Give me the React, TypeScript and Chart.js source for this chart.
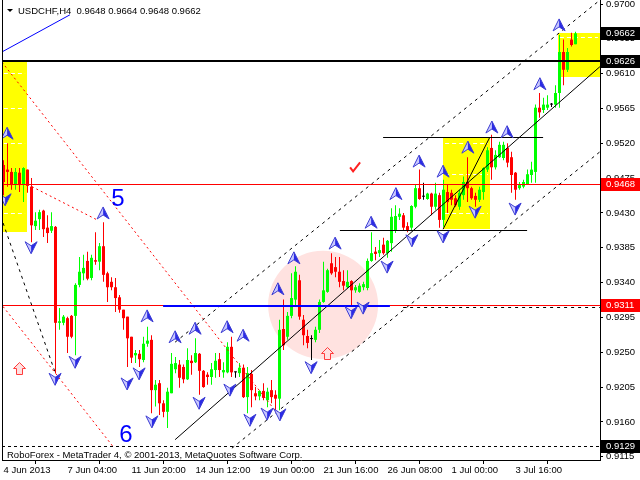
import React, { useEffect, useRef } from 'react';
import { Chart, registerables } from 'chart.js';

Chart.register(...registerables);

const symbol = 'USDCHF';
const period = 'H4';
const broker = 'RoboForex - MetaTrader 4, © 2001-2013, MetaQuotes Software Corp.';

const xTickIndex = [0, 16, 32, 48, 64, 80, 96, 112, 128];
const xTickLabels = ['4 Jun 2013', '7 Jun 04:00', '11 Jun 20:00', '14 Jun 12:00', '19 Jun 00:00', '21 Jun 16:00', '26 Jun 08:00', '1 Jul 00:00', '3 Jul 16:00'];
const yTickValues = [0.97, 0.9655, 0.961, 0.9565, 0.952, 0.9475, 0.943, 0.9385, 0.934, 0.9295, 0.925, 0.9205, 0.916, 0.9115];

const opens = [
  0.9492, 0.9486, 0.9483, 0.9466, 0.9482, 0.9466, 0.9486, 0.9464, 0.9413, 0.9422,
  0.9433, 0.9411, 0.9407, 0.9412, 0.9288, 0.9288, 0.9294, 0.9297, 0.9297, 0.9337,
  0.9352, 0.9368, 0.9346, 0.9369, 0.9367, 0.9387, 0.9352, 0.9341, 0.9334, 0.9321,
  0.9305, 0.9296, 0.9270, 0.9246, 0.9248, 0.9240, 0.9261, 0.9266, 0.9201, 0.9210,
  0.9184, 0.9173, 0.9197, 0.9228, 0.9234, 0.9231, 0.9215, 0.9239, 0.9237, 0.9248,
  0.9226, 0.9221, 0.9218, 0.9227, 0.9241, 0.9224, 0.9224, 0.9257, 0.9224, 0.9223,
  0.9230, 0.9192, 0.9222, 0.9197, 0.9193, 0.9200, 0.9188, 0.9201, 0.9195, 0.9190,
  0.9280, 0.9270, 0.9297, 0.9318, 0.9343, 0.9292, 0.9271, 0.9267, 0.9266, 0.9279,
  0.9315, 0.9328, 0.9365, 0.9360, 0.9354, 0.9342, 0.9334, 0.9342, 0.9330, 0.9328,
  0.9334, 0.9333, 0.9368, 0.9380, 0.9378, 0.9389, 0.9378, 0.9391, 0.9408, 0.9425,
  0.9427, 0.9413, 0.9411, 0.9438, 0.9462, 0.9451, 0.9448, 0.9455, 0.9438, 0.9453,
  0.9421, 0.9457, 0.9456, 0.9449, 0.9438, 0.9453, 0.9470, 0.9462, 0.9452, 0.9447,
  0.9457, 0.9486, 0.9514, 0.9489, 0.9502, 0.9501, 0.9514, 0.9502, 0.9482, 0.9462,
  0.9464, 0.9467, 0.9479, 0.9483, 0.9566, 0.9563, 0.9566, 0.9570, 0.9570, 0.9585,
  0.9638, 0.9615, 0.9654, 0.9648,
];
const highs = [
  0.9498, 0.9520, 0.9488, 0.9488, 0.9488, 0.9489, 0.9486, 0.9475, 0.9431, 0.9434,
  0.9434, 0.9427, 0.9431, 0.9413, 0.9307, 0.9298, 0.9296, 0.9298, 0.9339, 0.9373,
  0.9376, 0.9380, 0.9376, 0.9405, 0.9391, 0.9418, 0.9354, 0.9347, 0.9346, 0.9324,
  0.9305, 0.9296, 0.9270, 0.9253, 0.9253, 0.9270, 0.9283, 0.9272, 0.9214, 0.9214,
  0.9188, 0.9204, 0.9249, 0.9244, 0.9240, 0.9234, 0.9255, 0.9246, 0.9268, 0.9249,
  0.9227, 0.9224, 0.9236, 0.9249, 0.9249, 0.9237, 0.9263, 0.9270, 0.9225, 0.9236,
  0.9234, 0.9231, 0.9227, 0.9205, 0.9201, 0.9210, 0.9204, 0.9214, 0.9201, 0.9292,
  0.9318, 0.9302, 0.9352, 0.9361, 0.9350, 0.9298, 0.9279, 0.9272, 0.9283, 0.9318,
  0.9367, 0.9358, 0.9378, 0.9373, 0.9373, 0.9356, 0.9356, 0.9343, 0.9337, 0.9339,
  0.9341, 0.9371, 0.9405, 0.9386, 0.9395, 0.9398, 0.9395, 0.9436, 0.9440, 0.9436,
  0.9430, 0.9418, 0.9440, 0.9467, 0.9486, 0.9469, 0.9456, 0.9456, 0.9469, 0.9456,
  0.9473, 0.9466, 0.9460, 0.9453, 0.9460, 0.9477, 0.9502, 0.9464, 0.9456, 0.9464,
  0.9489, 0.9515, 0.9531, 0.9511, 0.9522, 0.9522, 0.9520, 0.9509, 0.9483, 0.9470,
  0.9473, 0.9486, 0.9496, 0.9570, 0.9585, 0.9579, 0.9582, 0.9572, 0.9595, 0.9660,
  0.9654, 0.9643, 0.9663, 0.9664,
];
const lows = [
  0.9453, 0.9464, 0.9460, 0.9460, 0.9457, 0.9444, 0.9456, 0.9392, 0.9408, 0.9408,
  0.9399, 0.9391, 0.9404, 0.9223, 0.9279, 0.9285, 0.9249, 0.9268, 0.9246, 0.9334,
  0.9343, 0.9343, 0.9343, 0.9363, 0.9356, 0.9341, 0.9315, 0.9330, 0.9302, 0.9301,
  0.9279, 0.9231, 0.9236, 0.9236, 0.9231, 0.9237, 0.9257, 0.9171, 0.9180, 0.9169,
  0.9166, 0.9152, 0.9197, 0.9223, 0.9204, 0.9210, 0.9214, 0.9221, 0.9236, 0.9195,
  0.9204, 0.9208, 0.9208, 0.9217, 0.9218, 0.9217, 0.9223, 0.9218, 0.9217, 0.9218,
  0.9191, 0.9171, 0.9179, 0.9188, 0.9188, 0.9188, 0.9179, 0.9184, 0.9173, 0.9175,
  0.9253, 0.9266, 0.9294, 0.9311, 0.9292, 0.9259, 0.9255, 0.9240, 0.9263, 0.9275,
  0.9314, 0.9327, 0.9350, 0.9347, 0.9334, 0.9330, 0.9333, 0.9311, 0.9327, 0.9327,
  0.9330, 0.9330, 0.9367, 0.9369, 0.9373, 0.9376, 0.9372, 0.9380, 0.9404, 0.9421,
  0.9408, 0.9405, 0.9408, 0.9436, 0.9447, 0.9447, 0.9447, 0.9427, 0.9434, 0.9411,
  0.9412, 0.9430, 0.9440, 0.9438, 0.9434, 0.9447, 0.9444, 0.9447, 0.9438, 0.9444,
  0.9447, 0.9483, 0.9473, 0.9486, 0.9501, 0.9498, 0.9489, 0.9456, 0.9447, 0.9460,
  0.9462, 0.9466, 0.9469, 0.9469, 0.9553, 0.9559, 0.9563, 0.9567, 0.9566, 0.9566,
  0.9595, 0.9612, 0.9645, 0.9648,
];
const closes = [
  0.9470, 0.9483, 0.9466, 0.9483, 0.9466, 0.9488, 0.9465, 0.9414, 0.9420, 0.9431,
  0.9409, 0.9404, 0.9413, 0.9288, 0.9290, 0.9296, 0.9270, 0.9270, 0.9337, 0.9354,
  0.9359, 0.9345, 0.9372, 0.9367, 0.9387, 0.9350, 0.9334, 0.9334, 0.9320, 0.9305,
  0.9294, 0.9268, 0.9243, 0.9249, 0.9241, 0.9261, 0.9265, 0.9201, 0.9208, 0.9184,
  0.9173, 0.9199, 0.9235, 0.9236, 0.9217, 0.9215, 0.9240, 0.9236, 0.9249, 0.9226,
  0.9205, 0.9218, 0.9228, 0.9239, 0.9227, 0.9227, 0.9257, 0.9224, 0.9224, 0.9230,
  0.9192, 0.9223, 0.9201, 0.9193, 0.9200, 0.9191, 0.9199, 0.9192, 0.9190, 0.9279,
  0.9259, 0.9297, 0.9320, 0.9354, 0.9296, 0.9272, 0.9262, 0.9267, 0.9279, 0.9315,
  0.9330, 0.9356, 0.9352, 0.9354, 0.9341, 0.9336, 0.9341, 0.9330, 0.9334, 0.9336,
  0.9338, 0.9368, 0.9378, 0.9377, 0.9382, 0.9378, 0.9394, 0.9425, 0.9426, 0.9429,
  0.9411, 0.9408, 0.9439, 0.9462, 0.9448, 0.9451, 0.9455, 0.9438, 0.9455, 0.9421,
  0.9460, 0.9444, 0.9447, 0.9440, 0.9456, 0.9470, 0.9462, 0.9449, 0.9447, 0.9460,
  0.9488, 0.9511, 0.9489, 0.9505, 0.9518, 0.9518, 0.9495, 0.9479, 0.9460, 0.9466,
  0.9470, 0.9480, 0.9486, 0.9566, 0.9560, 0.9570, 0.9570, 0.9570, 0.9585, 0.9638,
  0.9615, 0.9638, 0.9647, 0.9662,
];

// horizontal levels across the whole chart
const levelPrices = [0.9626, 0.9468, 0.9311, 0.9129];
// price marks on the right axis
const axisMarkPrices = [0.9662, 0.9626, 0.9468, 0.9311, 0.9129];
const axisMarkKinds = ['black', 'black', 'red', 'red', 'black'];

// rectangles [fromIndex, topPrice, toIndex, bottomPrice]
const zoneBoxes = [
  [-0.4, 0.9626, 5.9, 0.9405],
  [109.9, 0.9528, 121.6, 0.9409],
  [138.6, 0.9663, 149.1, 0.9606],
];
// white level lines inside rectangles [fromIndex, toIndex, price]
const zoneLevels = [
  [0.1, 5.4, 0.9611], [0.1, 5.4, 0.9566], [0.1, 5.4, 0.952], [0.1, 5.4, 0.943],
  [110.4, 121.1, 0.952], [110.4, 121.1, 0.948], [110.4, 121.1, 0.943],
  [139.1, 148.6, 0.9658],
];
// ellipse [centerIndex, centerPrice, radiusIndex, radiusPrice]
const ellipseZone = [79.9, 0.9311, 13.75, 0.007];

// line segments [index1, price1, index2, price2]
const dashedBlack = [
  [42.9, 0.9263, 149.1, 0.9705],
  [57.1, 0.9126, 149.1, 0.9509],
  [-0.1, 0.9417, 12.9, 0.9224],
  [99.9, 0.9309, 149.1, 0.9309],
];
const solidBlack = [
  [42.9, 0.9137, 149.1, 0.9619],
  [109.9, 0.9409, 121.6, 0.9528],
  [94.9, 0.9528, 134.9, 0.9528],
  [84.1, 0.9408, 130.9, 0.9408],
];
const dottedRed = [
  [-0.4, 0.9625, 68.6, 0.917],
  [7.1, 0.9464, 23.4, 0.9421],
  [-0.1, 0.9309, 27.4, 0.9128],
];
const solidBlue = [[-0.4, 0.9638, 16.6, 0.9686]];
const thickBlue = [[39.9, 0.931, 96.6, 0.931]];

// fractal marks [index, price]
const fractalUp = [
  [0.9, 0.9533], [24.9, 0.943], [35.9, 0.9297], [42.9, 0.927], [47.9, 0.9281], [55.9, 0.9283],
  [59.9, 0.9272], [68.6, 0.9332], [72.6, 0.9372], [82.9, 0.9391], [91.9, 0.9418], [98.1, 0.9455],
  [103.9, 0.9497], [109.9, 0.9484], [116.1, 0.9515], [122.1, 0.9541], [125.9, 0.9535],
  [134.1, 0.9597], [138.9, 0.9673],
];
const fractalDown = [
  [0.4, 0.9447], [6.9, 0.9385], [12.9, 0.9215], [17.9, 0.9237], [30.9, 0.9209], [33.9, 0.9222],
  [37.1, 0.916], [48.9, 0.9184], [56.6, 0.9201], [61.6, 0.9162], [65.9, 0.917], [69.1, 0.9169],
  [76.9, 0.923], [86.9, 0.9301], [89.9, 0.9307], [95.9, 0.936], [102.1, 0.9394], [109.9, 0.9399],
  [117.9, 0.9431], [127.9, 0.9435],
];
const hollowUpArrows = [[3.9, 0.923], [80.9, 0.9249]];
const checkMarks = [[87.9, 0.9489]];
const waveLabels = ['5', '6'];
const waveLabelPos = [[28.6, 0.9448], [30.6, 0.9142]];

const FONT = '"Liberation Sans", Arial, sans-serif';

function drawFractal(ctx: CanvasRenderingContext2D, cx: number, cy: number, up: boolean) {
  const s = up ? 1 : -1;
  ctx.beginPath();
  ctx.moveTo(cx, cy - 6 * s);
  ctx.lineTo(cx - 6, cy + 6 * s);
  ctx.lineTo(cx, cy + 2 * s);
  ctx.closePath();
  ctx.fillStyle = '#c8c8ff';
  ctx.fill();
  ctx.beginPath();
  ctx.moveTo(cx, cy - 6 * s);
  ctx.lineTo(cx + 6, cy + 6 * s);
  ctx.lineTo(cx, cy + 2 * s);
  ctx.closePath();
  ctx.fillStyle = '#2a2ae6';
  ctx.fill();
  ctx.beginPath();
  ctx.moveTo(cx, cy - 6 * s);
  ctx.lineTo(cx + 6, cy + 6 * s);
  ctx.lineTo(cx, cy + 2 * s);
  ctx.lineTo(cx - 6, cy + 6 * s);
  ctx.closePath();
  ctx.strokeStyle = '#3c3cd2';
  ctx.lineWidth = 1;
  ctx.stroke();
}

function drawSegs(ctx: CanvasRenderingContext2D, chart: any, segs: number[][], color: string, width: number, dash: number[]) {
  const { x, y } = chart.scales;
  ctx.strokeStyle = color;
  ctx.lineWidth = width;
  ctx.setLineDash(dash);
  segs.forEach(([i1, p1, i2, p2]) => {
    let y1 = y.getPixelForValue(p1);
    let y2 = y.getPixelForValue(p2);
    if (Math.abs(y1 - y2) < 0.01) {
      const yy = width % 2 === 1 ? Math.round(y1) + 0.5 : Math.round(y1);
      y1 = yy;
      y2 = yy;
    }
    ctx.beginPath();
    ctx.moveTo(x.getPixelForValue(i1), y1);
    ctx.lineTo(x.getPixelForValue(i2), y2);
    ctx.stroke();
  });
  ctx.setLineDash([]);
}

const overlayPlugin = {
  id: 'mt4overlay',
  beforeDatasetsDraw(chart: any) {
    const { ctx, chartArea: a } = chart;
    const { x, y } = chart.scales;
    ctx.save();
    ctx.beginPath();
    ctx.rect(a.left, a.top, a.right - a.left, a.bottom - a.top);
    ctx.clip();
    ctx.fillStyle = '#ffff00';
    zoneBoxes.forEach(([i1, p1, i2, p2]) => {
      const x1 = Math.round(x.getPixelForValue(i1));
      const x2 = Math.round(x.getPixelForValue(i2));
      const y1 = Math.round(y.getPixelForValue(p1));
      const y2 = Math.round(y.getPixelForValue(p2));
      ctx.fillRect(x1, y1, x2 - x1, y2 - y1);
    });
    ctx.fillStyle = '#ffe2e0';
    const cx = x.getPixelForValue(ellipseZone[0]);
    const cy = y.getPixelForValue(ellipseZone[1]);
    const rx = x.getPixelForValue(ellipseZone[0] + ellipseZone[2]) - cx;
    const ry = y.getPixelForValue(ellipseZone[1] - ellipseZone[3]) - cy;
    ctx.beginPath();
    ctx.ellipse(cx, cy, rx, ry, 0, 0, Math.PI * 2);
    ctx.fill();
    ctx.strokeStyle = '#ffffff';
    ctx.lineWidth = 1;
    ctx.setLineDash([4, 3]);
    zoneLevels.forEach(([i1, i2, p]) => {
      const yy = Math.round(y.getPixelForValue(p)) + 0.5;
      ctx.beginPath();
      ctx.moveTo(x.getPixelForValue(i1), yy);
      ctx.lineTo(x.getPixelForValue(i2), yy);
      ctx.stroke();
    });
    ctx.setLineDash([]);
    ctx.restore();
  },
  afterDatasetsDraw(chart: any) {
    const { ctx, chartArea: a } = chart;
    const { x, y } = chart.scales;
    ctx.save();
    ctx.beginPath();
    ctx.rect(a.left, a.top, a.right - a.left, a.bottom - a.top);
    ctx.clip();

    levelPrices.forEach((p, k) => {
      const py = y.getPixelForValue(p);
      if (k === 0) {
        ctx.fillStyle = '#000000';
        ctx.fillRect(a.left, Math.round(py) - 1, a.right - a.left, 2);
      } else if (k === 3) {
        ctx.strokeStyle = '#000000';
        ctx.lineWidth = 1;
        ctx.setLineDash([3, 3]);
        ctx.beginPath();
        ctx.moveTo(a.left, Math.round(py) + 0.5);
        ctx.lineTo(a.right, Math.round(py) + 0.5);
        ctx.stroke();
        ctx.setLineDash([]);
      } else {
        ctx.fillStyle = '#ff0000';
        ctx.fillRect(a.left, Math.round(py), a.right - a.left, 1);
      }
    });

    drawSegs(ctx, chart, dottedRed, '#ff0000', 1, [2, 3]);
    drawSegs(ctx, chart, dashedBlack, '#000000', 1, [3, 4]);
    drawSegs(ctx, chart, solidBlack, '#000000', 1, []);
    drawSegs(ctx, chart, solidBlue, '#0000ff', 1, []);
    drawSegs(ctx, chart, thickBlue, '#0000ff', 2, []);

    fractalUp.forEach(([i, p]) => drawFractal(ctx, x.getPixelForValue(i), y.getPixelForValue(p), true));
    fractalDown.forEach(([i, p]) => drawFractal(ctx, x.getPixelForValue(i), y.getPixelForValue(p), false));

    hollowUpArrows.forEach(([i, p]) => {
      const cx = Math.round(x.getPixelForValue(i)) + 0.5;
      const cy = Math.round(y.getPixelForValue(p)) + 0.5;
      ctx.beginPath();
      ctx.moveTo(cx, cy - 6);
      ctx.lineTo(cx + 6, cy);
      ctx.lineTo(cx + 3, cy);
      ctx.lineTo(cx + 3, cy + 6);
      ctx.lineTo(cx - 3, cy + 6);
      ctx.lineTo(cx - 3, cy);
      ctx.lineTo(cx - 6, cy);
      ctx.closePath();
      ctx.fillStyle = '#ffe0e0';
      ctx.fill();
      ctx.strokeStyle = '#ff3c3c';
      ctx.lineWidth = 1;
      ctx.stroke();
    });

    checkMarks.forEach(([i, p]) => {
      const cx = x.getPixelForValue(i);
      const cy = y.getPixelForValue(p);
      ctx.strokeStyle = '#ff2020';
      ctx.lineWidth = 2;
      ctx.beginPath();
      ctx.moveTo(cx - 5, cy);
      ctx.lineTo(cx - 2, cy + 4);
      ctx.lineTo(cx + 5, cy - 5);
      ctx.stroke();
    });

    ctx.fillStyle = '#0000ff';
    ctx.font = `24px ${FONT}`;
    ctx.textAlign = 'center';
    ctx.textBaseline = 'middle';
    waveLabels.forEach((t, k) => {
      ctx.fillText(t, x.getPixelForValue(waveLabelPos[k][0]), y.getPixelForValue(waveLabelPos[k][1]));
    });

    ctx.fillStyle = '#000000';
    ctx.beginPath();
    ctx.moveTo(a.left + 5, a.top + 9);
    ctx.lineTo(a.left + 11, a.top + 9);
    ctx.lineTo(a.left + 8, a.top + 12);
    ctx.closePath();
    ctx.fill();
    const last = opens.length - 1;
    const title = `${symbol},${period}  ${opens[last].toFixed(4)} ${highs[last].toFixed(4)} ${lows[last].toFixed(4)} ${closes[last].toFixed(4)}`;
    ctx.font = `9.5px ${FONT}`;
    ctx.textAlign = 'left';
    ctx.textBaseline = 'middle';
    ctx.fillText(title, a.left + 16, a.top + 11);
    ctx.fillText(broker, a.left + 5, a.bottom - 5);

    ctx.fillRect(a.left, a.top, 1, a.bottom - a.top);
    ctx.restore();

    ctx.save();
    ctx.font = `9.5px ${FONT}`;
    ctx.textAlign = 'left';
    ctx.textBaseline = 'middle';
    axisMarkPrices.forEach((p, k) => {
      const py = Math.round(y.getPixelForValue(p));
      ctx.fillStyle = axisMarkKinds[k] === 'red' ? '#ff0000' : '#000000';
      ctx.fillRect(a.right + 1, py - 6, chart.width - a.right - 1, 13);
      ctx.fillStyle = '#ffffff';
      ctx.fillText(p.toFixed(4), a.right + 6, py + 0.5);
    });
    ctx.restore();
  },
};

export default function App() {
  const ref = useRef<HTMLCanvasElement | null>(null);
  useEffect(() => {
    if (!ref.current) return;
    const n = opens.length;
    const idx = Array.from({ length: n }, (_, i) => i);
    const colorOf = (i: number) => (closes[i] > opens[i] ? '#00ff00' : closes[i] < opens[i] ? '#ff0000' : '#000000');
    const chart = new Chart(ref.current, {
      type: 'bar',
      data: {
        datasets: [
          {
            label: 'wick',
            data: idx.map((i) => ({ x: i, y: [lows[i], highs[i]] })) as any,
            backgroundColor: idx.map(colorOf),
            barThickness: 1,
            grouped: false,
            inflateAmount: 0,
            borderWidth: 0,
            order: 1,
          } as any,
          {
            label: 'body',
            data: idx.map((i) => ({ x: i, y: [Math.min(opens[i], closes[i]), Math.max(opens[i], closes[i])] })) as any,
            backgroundColor: idx.map(colorOf),
            barThickness: 3,
            grouped: false,
            inflateAmount: 0,
            borderWidth: 0,
            minBarLength: 1,
            order: 0,
          } as any,
        ],
      },
      options: {
        responsive: false,
        animation: false,
        events: [],
        layout: { padding: { left: 2, top: 0, right: 0, bottom: 0 } },
        plugins: { legend: { display: false }, tooltip: { enabled: false } },
        scales: {
          x: {
            type: 'linear',
            min: -0.375,
            max: 149.125,
            offset: false,
            grid: { display: true, drawOnChartArea: false, drawTicks: true, tickLength: 4, color: '#000000' },
            border: { display: true, color: '#000000' },
            ticks: {
              autoSkip: false,
              maxRotation: 0,
              align: 'start',
              padding: 1,
              color: '#000000',
              font: { family: FONT, size: 9.5 },
              callback: (v: any) => {
                const k = xTickIndex.indexOf(Number(v));
                return k >= 0 ? xTickLabels[k] : '';
              },
            },
            afterBuildTicks: (s: any) => {
              s.ticks = xTickIndex.map((v) => ({ value: v }));
            },
            afterFit: (s: any) => {
              s.height = 20;
              s.paddingLeft = 0;
              s.paddingRight = 0;
            },
          } as any,
          y: {
            type: 'linear',
            position: 'right',
            min: 0.911074,
            max: 0.970517,
            grid: { display: true, drawOnChartArea: false, drawTicks: true, tickLength: 3, color: '#000000' },
            border: { display: true, color: '#000000' },
            ticks: {
              autoSkip: false,
              padding: 3,
              color: '#000000',
              font: { family: FONT, size: 9.5 },
              callback: (v: any) => Number(v).toFixed(4),
            },
            afterBuildTicks: (s: any) => {
              s.ticks = yTickValues.map((v) => ({ value: v }));
            },
            afterFit: (s: any) => {
              s.width = 40;
              s.paddingTop = 0;
              s.paddingBottom = 0;
            },
          } as any,
        },
      },
      plugins: [overlayPlugin],
    });
    return () => chart.destroy();
  }, []);
  return (
    <div style={{ position: 'absolute', left: 0, top: 0, width: 640, height: 480, background: '#ffffff' }}>
      <canvas ref={ref} width={640} height={480} style={{ display: 'block' }} />
    </div>
  );
}
